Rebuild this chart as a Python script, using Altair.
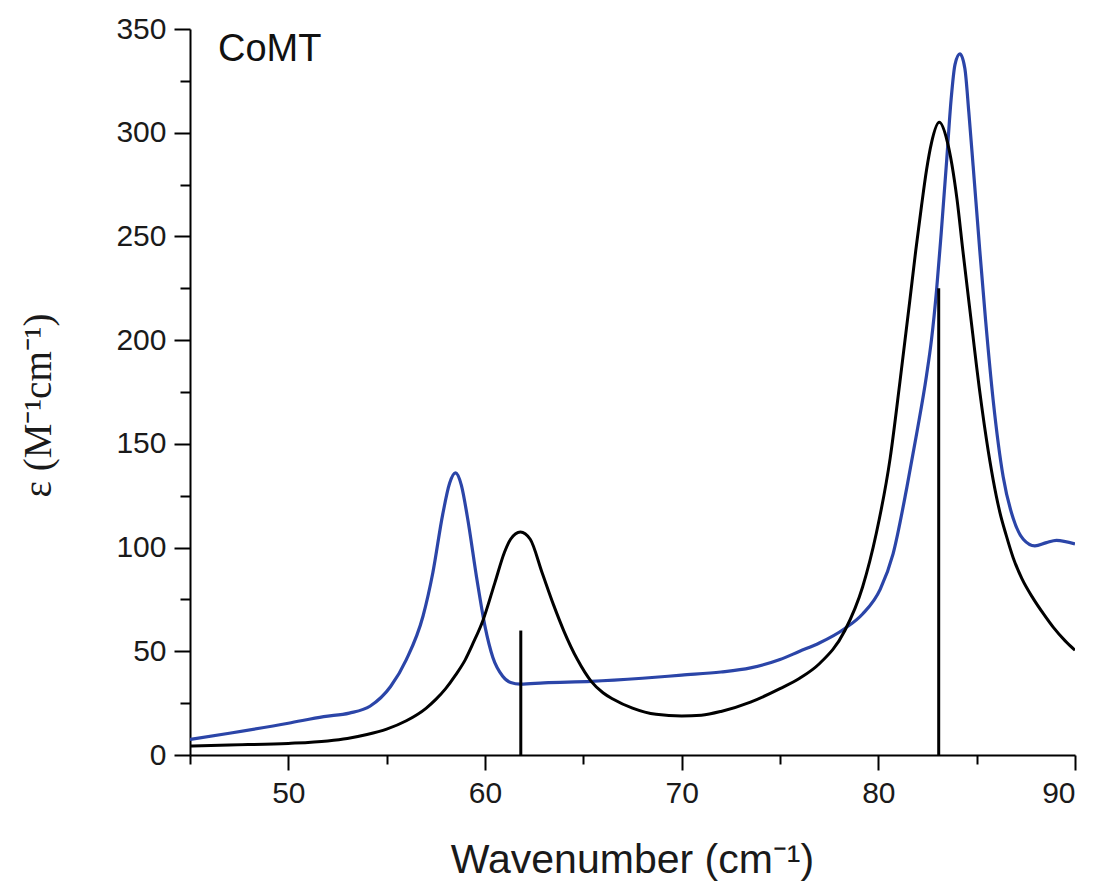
import altair as alt
import pandas as pd

# Black curve (calculated spectrum)
black_x = [45, 47, 50, 52, 53, 54, 55, 56, 57, 57.5, 58, 58.5, 59, 59.4, 59.9, 60.5, 61, 61.3, 61.8,
           62.3, 62.9, 63.5, 64, 64.7, 65.4, 66, 66.5, 67.5, 68.7, 70, 71, 72, 73.5, 75, 76, 77, 78.3,
           79.2, 79.9, 80.6, 81.1, 81.6, 81.9, 82.2, 82.45, 82.7, 83.1, 83.5, 84, 84.3, 84.8, 85.0,
           85.5, 86.18, 86.5, 86.86, 87.3, 87.87, 88.4, 88.9, 89.5, 90]
black_y = [4.3, 4.8, 5.6, 6.8, 8, 9.9, 12.5, 16.5, 22.5, 26.8, 32, 38.5, 46, 54, 65, 83, 98, 104, 107.5,
           104, 88, 72, 60, 46, 35.5, 30, 27, 22.6, 19.6, 18.8, 19.2, 21, 25.5, 32, 37, 44, 60,
           81, 107, 143, 180, 219, 243, 265, 282, 295, 305, 296, 268, 243, 203, 187,
           152, 117, 106, 95, 85, 75.5, 68, 61.5, 55, 50.5]

# Blue curve (experimental spectrum)
blue_x = [45, 47, 50, 51.8, 53.1, 54.15, 55.2, 56, 56.85, 57.35, 57.85, 58.2, 58.5, 58.8, 59.1, 59.6,
          60, 60.4, 60.9, 61.3, 61.8, 63, 65.4, 68, 70, 72, 73.5, 75, 76, 77, 78.3, 79.2, 80.1, 80.75,
          81.45, 81.95, 82.45, 82.7, 82.96, 83.2, 83.47, 83.7, 83.9, 84.15, 84.4, 84.6, 84.82, 85.16,
          85.45, 85.84, 86.35, 86.86, 87.37, 87.96, 88.55, 89.06, 90]
blue_y = [7.5, 10.5, 15.3, 18.5, 20.2, 23.5, 33, 46, 67, 88, 116, 131, 136, 130, 115, 84,
          62, 47, 38, 35, 34.2, 34.8, 35.5, 37, 38.5, 40, 42, 46, 50, 54, 61, 68, 80, 97,
          129, 155, 183, 200, 224, 252, 286, 316, 333, 338, 331, 310, 284, 243,
          210, 171, 134, 114, 104, 100.8, 102.4, 103.5, 101.7]

# Stick spectrum
stick_x = [61.82, 83.07]
stick_y = [60, 225]

x_major = [50, 60, 70, 80, 90]
x_minor = [45, 55, 65, 75, 85]
y_major = [0, 50, 100, 150, 200, 250, 300, 350]
y_minor = [25, 75, 125, 175, 225, 275, 325]

black_df = pd.DataFrame({"x": black_x, "y": black_y})
blue_df = pd.DataFrame({"x": blue_x, "y": blue_y})
stick_df = pd.DataFrame({"x": stick_x, "y": stick_y, "y0": [0] * len(stick_x)})

xscale = alt.Scale(domain=[45, 90], nice=False, zero=False)
yscale = alt.Scale(domain=[0, 350], nice=False)

label_font = "Liberation Sans"

x_axis_major = alt.Axis(
    values=x_major, tickSize=15, tickWidth=2, tickColor="black", domainColor="black",
    domainWidth=2, labelFont=label_font, labelFontSize=30, labelColor="#1a1a1a",
    labelPadding=8, grid=False, format="d",
    title="Wavenumber (cm⁻¹)", titleFont=label_font, titleFontSize=41,
    titleFontWeight="normal", titleColor="#1a1a1a", titleBaseline="alphabetic",
    titleAlign="center", titleX=442, titleY=117,
)
y_axis_major = alt.Axis(
    values=y_major, tickSize=16, tickWidth=2, tickColor="black", domainColor="black",
    domainWidth=2, labelFont=label_font, labelFontSize=30, labelColor="#1a1a1a",
    labelPadding=8, grid=False, format="d",
    title="ε (M⁻¹cm⁻¹)", titleFont="Liberation Serif", titleFontSize=39,
    titleFontWeight="normal", titleColor="#1a1a1a", titleAngle=270,
    titleBaseline="middle", titleAlign="center", titleX=-152, titleY=376,
)
x_axis_minor = alt.Axis(
    values=x_minor, tickSize=9, tickWidth=2, tickColor="black", domain=False,
    labels=False, grid=False, title=None, orient="bottom",
)
y_axis_minor = alt.Axis(
    values=y_minor, tickSize=10, tickWidth=2, tickColor="black", domain=False,
    labels=False, grid=False, title=None, orient="left",
)

black_line = alt.Chart(black_df).mark_line(
    color="black", strokeWidth=3, interpolate="monotone", clip=True
).encode(
    x=alt.X("x:Q", scale=xscale, axis=x_axis_major),
    y=alt.Y("y:Q", scale=yscale, axis=y_axis_major),
)

blue_line = alt.Chart(blue_df).mark_line(
    color="#2B45A8", strokeWidth=3.2, interpolate="monotone", clip=True
).encode(
    x=alt.X("x:Q", scale=xscale, axis=None),
    y=alt.Y("y:Q", scale=yscale, axis=None),
)

sticks = alt.Chart(stick_df).mark_rule(color="black", strokeWidth=3).encode(
    x=alt.X("x:Q", scale=xscale, axis=x_axis_minor),
    y=alt.Y("y0:Q", scale=yscale, axis=y_axis_minor),
    y2="y:Q",
)

label = alt.Chart(pd.DataFrame({"t": ["CoMT"]})).mark_text(
    font=label_font, fontSize=38, color="#111111", align="left", baseline="alphabetic"
).encode(
    x=alt.value(28), y=alt.value(32), text="t:N"
)

chart = alt.layer(blue_line, black_line, sticks, label).resolve_axis(
    x="independent", y="independent"
).properties(
    width=885, height=726,
    autosize=alt.AutoSizeParams(type="none"),
    padding={"left": 190, "top": 29, "right": 24, "bottom": 129},
    background="white",
).configure_view(stroke=None)

chart.save("out.html", embed_options={"renderer": "svg", "actions": False})
